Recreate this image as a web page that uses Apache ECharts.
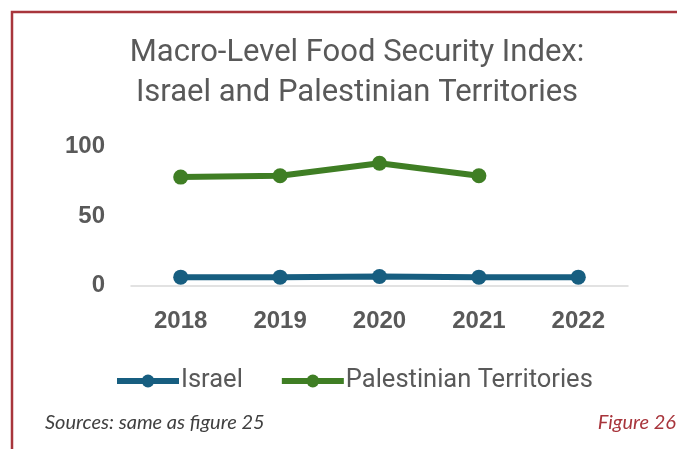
<!DOCTYPE html>
<html>
<head>
<meta charset="utf-8">
<script src="https://cdn.jsdelivr.net/npm/echarts@6/dist/echarts.min.js"></script>
<style>
  html, body { margin: 0; padding: 0; background: #fff; }
  #chart { width: 677px; height: 449px; }
</style>
</head>
<body>
<div id="chart"></div>
<script>
// Food security index by year
const years = ['2018', '2019', '2020', '2021', '2022'];
const israel = [6, 6, 6.5, 6, 6];
const palestinian = [78, 79, 88, 79, null];
const yTicks = [0, 50, 100];

const chart = echarts.init(document.getElementById('chart'), null, { renderer: 'canvas' });

const axisFont = 'Liberation Sans, Arial, sans-serif';
const textFont = 'Roboto, sans-serif';
const grey = '#595959';

chart.setOption({
  animation: false,
  backgroundColor: '#ffffff',
  title: {
    text: 'Macro-Level Food Security Index:\nIsrael and Palestinian Territories',
    left: 352,
    top: 28,
    textAlign: 'center',
    textStyle: {
      fontFamily: textFont,
      fontWeight: 'normal',
      fontSize: 31,
      lineHeight: 40,
      color: grey
    }
  },
  legend: {
    left: 114,
    top: 368,
    padding: 0,
    itemWidth: 62,
    itemHeight: 16,
    itemGap: 36,
    data: ['Israel', 'Palestinian Territories'],
    lineStyle: { width: 6 },
    textStyle: {
      fontFamily: textFont,
      fontSize: 25.5,
      color: grey,
      padding: [0, 0, 0, -3]
    }
  },
  grid: {
    left: 131,
    right: 49,
    top: 146.5,
    bottom: 163.5,
    containLabel: false
  },
  xAxis: {
    type: 'category',
    data: years,
    boundaryGap: true,
    axisLine: { show: true, lineStyle: { color: '#d9d9d9', width: 1.5 } },
    axisTick: { show: false },
    axisLabel: {
      margin: 24,
      fontFamily: axisFont,
      fontWeight: 'bold',
      fontSize: 24,
      color: grey
    }
  },
  yAxis: {
    type: 'value',
    min: yTicks[0],
    max: yTicks[yTicks.length - 1],
    interval: yTicks[1] - yTicks[0],
    splitLine: { show: false },
    axisLine: { show: false },
    axisTick: { show: false },
    axisLabel: {
      margin: 26,
      fontFamily: axisFont,
      fontWeight: 'bold',
      fontSize: 24,
      color: grey
    }
  },
  series: [
    {
      name: 'Israel',
      type: 'line',
      data: israel,
      symbol: 'circle',
      symbolSize: 15,
      color: '#175e80',
      lineStyle: { width: 6, color: '#175e80' },
      itemStyle: { color: '#175e80' }
    },
    {
      name: 'Palestinian Territories',
      type: 'line',
      data: palestinian,
      symbol: 'circle',
      symbolSize: 15,
      color: '#3f7e24',
      lineStyle: { width: 6, color: '#3f7e24' },
      itemStyle: { color: '#3f7e24' }
    }
  ],
  graphic: [
    {
      type: 'polyline',
      shape: { points: [[12, 449], [12, 12], [677, 12]] },
      style: { stroke: '#a8353c', lineWidth: 2.5, fill: null },
      silent: true
    },
    {
      type: 'text',
      left: 45,
      top: 413,
      style: {
        text: 'Sources: same as figure 25',
        font: 'italic 20px Lato, sans-serif',
        fill: '#404040'
      }
    },
    {
      type: 'text',
      right: 1,
      top: 413,
      style: {
        text: 'Figure 26',
        font: 'italic 20px Lato, sans-serif',
        fill: '#a8353c'
      }
    }
  ]
});
</script>
</body>
</html>
